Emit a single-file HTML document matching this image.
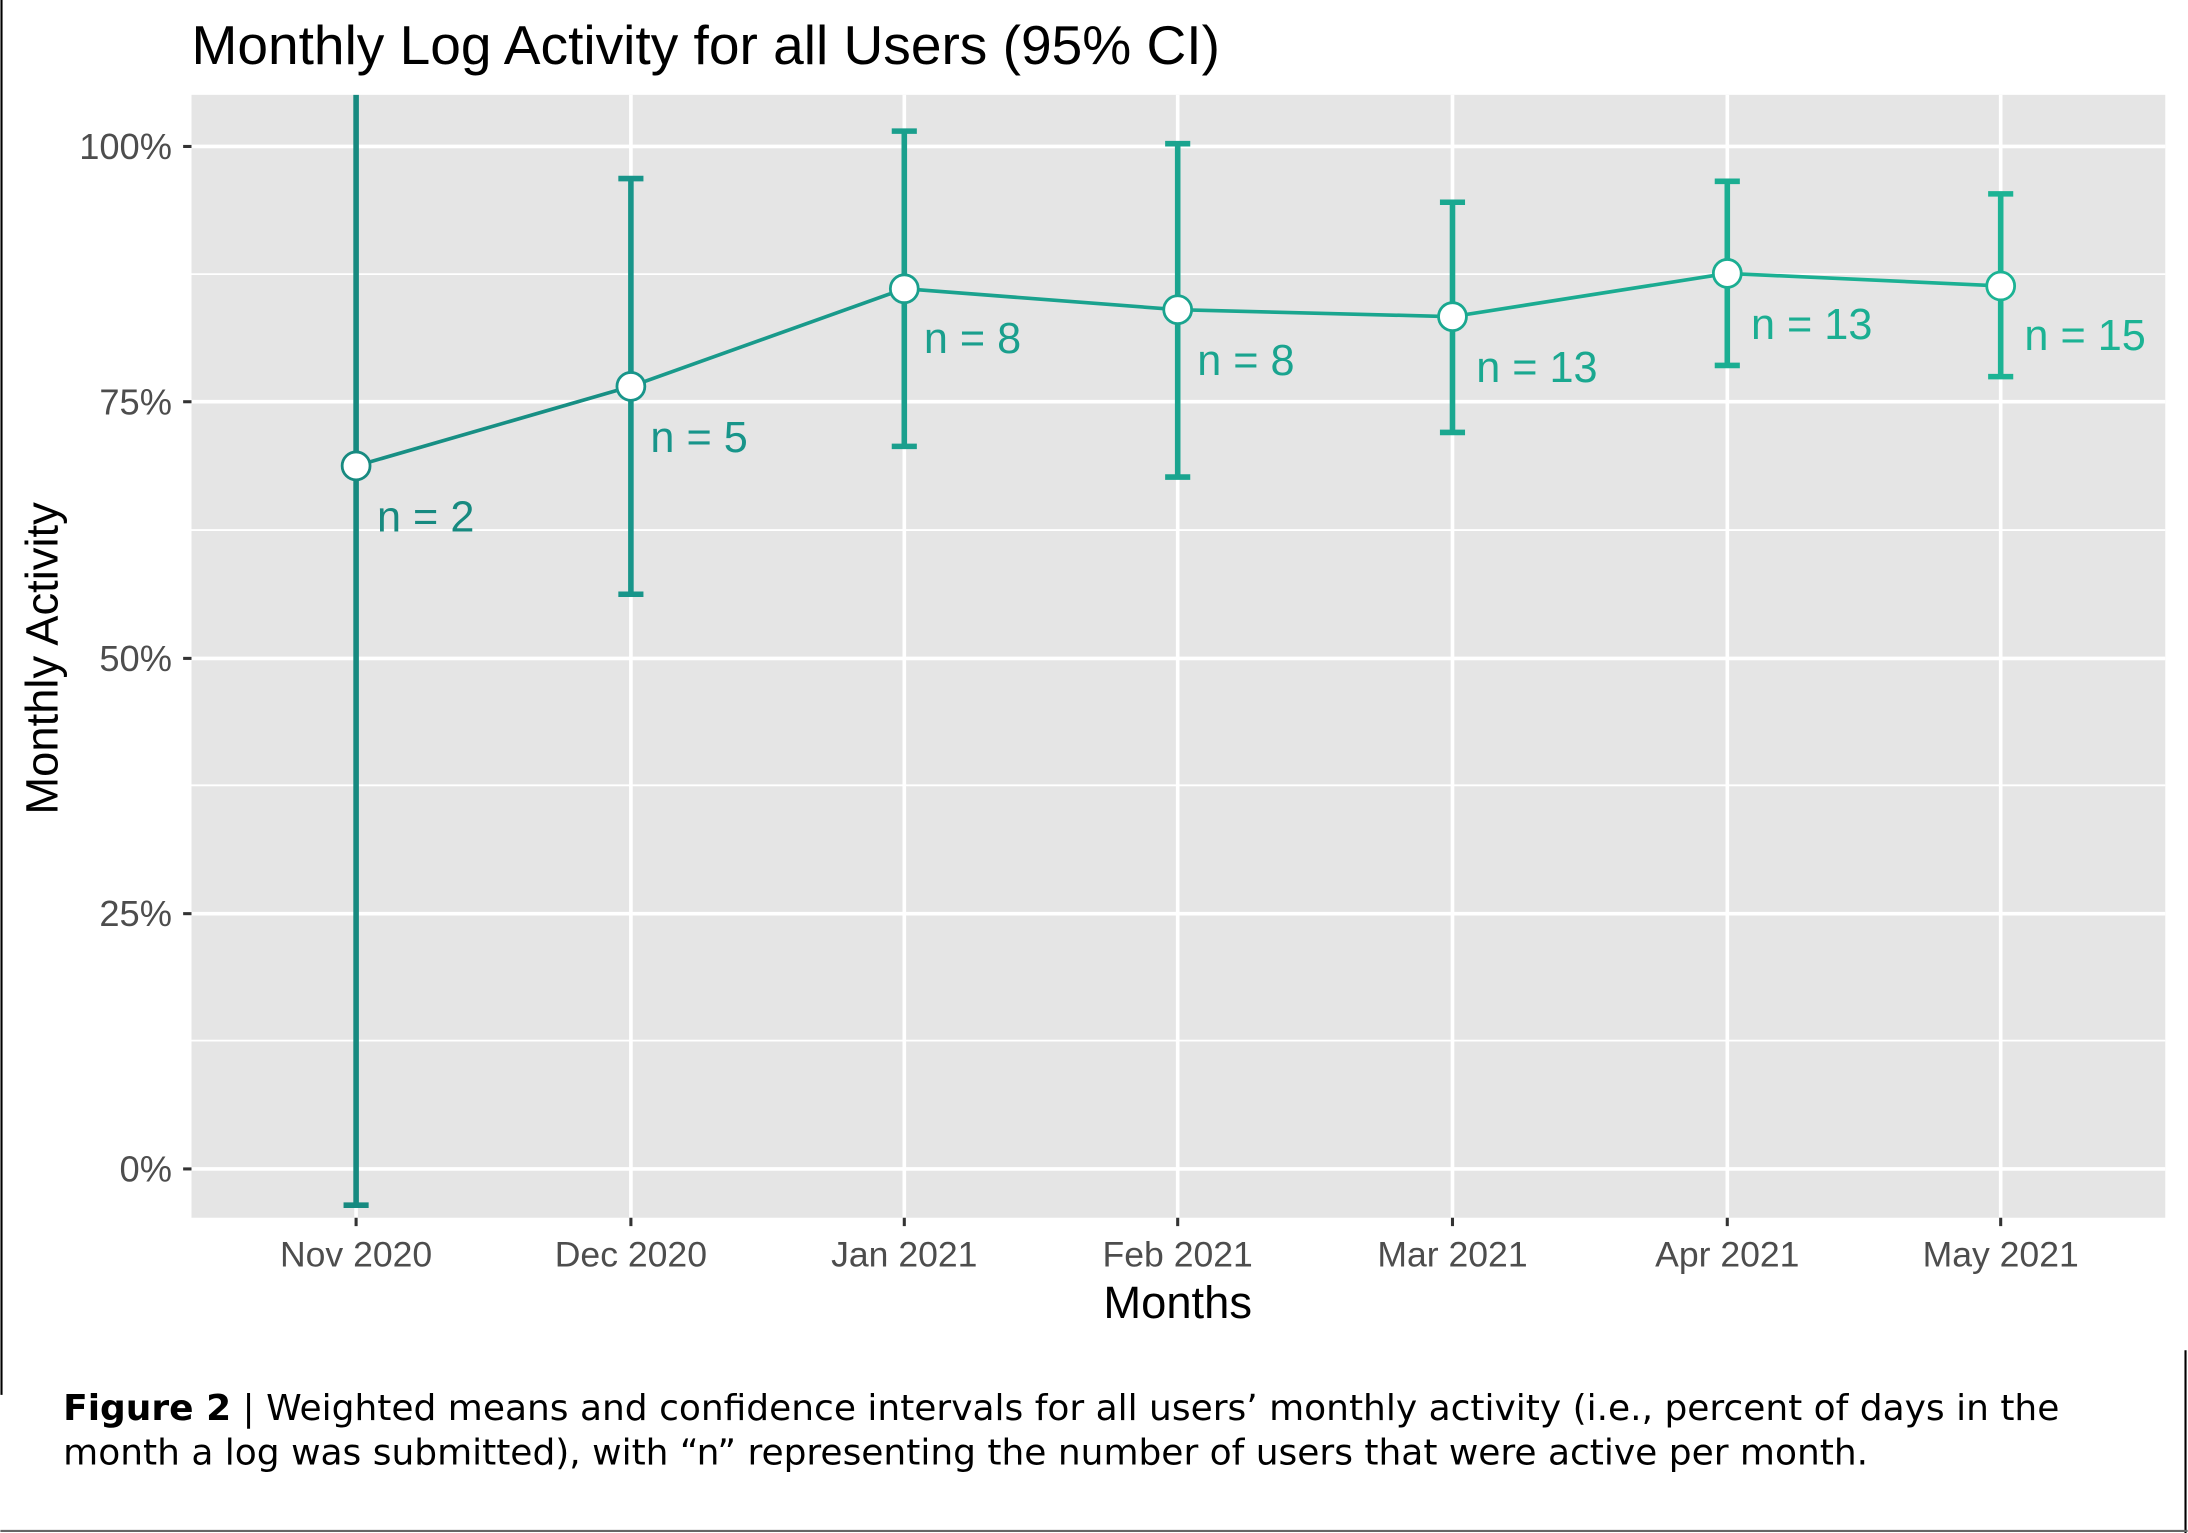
<!DOCTYPE html>
<html><head><meta charset="utf-8"><style>html,body{margin:0;padding:0;background:#fff}svg{display:block}</style></head>
<body>
<svg width="2188" height="1533" viewBox="0 0 1568 1099" xmlns="http://www.w3.org/2000/svg" font-family="Liberation Sans, Arial, sans-serif">
<rect width="1568" height="1099" fill="#fff"/>
<line x1="0.8" y1="0" x2="0.8" y2="1000" stroke="#000" stroke-width="1.5"/>
<line x1="1566.5" y1="968" x2="1566.5" y2="1099" stroke="#000" stroke-width="1.5"/>
<line x1="0" y1="1097.5" x2="1568" y2="1097.5" stroke="#666" stroke-width="1.5"/>
<text x="137" y="46" font-size="39.5" fill="#000">Monthly Log Activity for all Users (95% CI)</text>
<rect x="137" y="68" width="1415" height="805" fill="#e5e5e5"/>
<g stroke="#fff" stroke-width="1.3">
<line x1="137" x2="1552" y1="196.5" y2="196.5"/><line x1="137" x2="1552" y1="380" y2="380"/>
<line x1="137" x2="1552" y1="563" y2="563"/><line x1="137" x2="1552" y1="746" y2="746"/>
</g>
<g stroke="#fff" stroke-width="2.6">
<line x1="137" x2="1552" y1="105" y2="105"/><line x1="137" x2="1552" y1="288" y2="288"/>
<line x1="137" x2="1552" y1="472" y2="472"/><line x1="137" x2="1552" y1="655" y2="655"/>
<line x1="137" x2="1552" y1="838" y2="838"/>
<line x1="255" x2="255" y1="68" y2="873"/><line x1="452" x2="452" y1="68" y2="873"/>
<line x1="648" x2="648" y1="68" y2="873"/><line x1="844" x2="844" y1="68" y2="873"/>
<line x1="1041" x2="1041" y1="68" y2="873"/><line x1="1238" x2="1238" y1="68" y2="873"/>
<line x1="1434" x2="1434" y1="68" y2="873"/>
</g>
<g stroke="#333" stroke-width="2.2">
<line x1="131" x2="137" y1="105" y2="105"/><line x1="131" x2="137" y1="288" y2="288"/>
<line x1="131" x2="137" y1="472" y2="472"/><line x1="131" x2="137" y1="655" y2="655"/>
<line x1="131" x2="137" y1="838" y2="838"/>
<line x1="255" x2="255" y1="873" y2="879"/><line x1="452" x2="452" y1="873" y2="879"/>
<line x1="648" x2="648" y1="873" y2="879"/><line x1="844" x2="844" y1="873" y2="879"/>
<line x1="1041" x2="1041" y1="873" y2="879"/><line x1="1238" x2="1238" y1="873" y2="879"/>
<line x1="1434" x2="1434" y1="873" y2="879"/>
</g>
<g font-size="26" fill="#4d4d4d" text-anchor="end">
<text x="123" y="114">100%</text><text x="123" y="297">75%</text><text x="123" y="481">50%</text>
<text x="123" y="664">25%</text><text x="123" y="847">0%</text>
</g>
<g font-size="25.5" fill="#4d4d4d" text-anchor="middle">
<text x="255" y="908">Nov 2020</text><text x="452" y="908">Dec 2020</text><text x="648" y="908">Jan 2021</text>
<text x="844" y="908">Feb 2021</text><text x="1041" y="908">Mar 2021</text><text x="1238" y="908">Apr 2021</text>
<text x="1434" y="908">May 2021</text>
</g>
<text x="844" y="945" font-size="32.5" text-anchor="middle" fill="#000">Months</text>
<text transform="translate(41,472) rotate(-90)" font-size="32.5" text-anchor="middle" fill="#000">Monthly Activity</text>
<g stroke-width="4" fill="none">
<path d="M255 68V864M246 864H264" stroke="#178a80"/>
<path d="M452 128V426M443 128H461M443 426H461" stroke="#18958a"/>
<path d="M648 94V320M639 94H657M639 320H657" stroke="#1a9f8d"/>
<path d="M844 103V342M835 103H853M835 342H853" stroke="#1aa48f"/>
<path d="M1041 145V310M1032 145H1050M1032 310H1050" stroke="#1aa890"/>
<path d="M1238 130V262M1229 130H1247M1229 262H1247" stroke="#1bae92"/>
<path d="M1434 139V270M1425 139H1443M1425 270H1443" stroke="#1cb394"/>
</g>
<g stroke-width="2.6">
<line x1="255" y1="334" x2="452" y2="277" stroke="#178f84"/>
<line x1="452" y1="277" x2="648" y2="207" stroke="#199a8b"/>
<line x1="648" y1="207" x2="844" y2="222" stroke="#1aa28e"/>
<line x1="844" y1="222" x2="1041" y2="227" stroke="#1aa68f"/>
<line x1="1041" y1="227" x2="1238" y2="196" stroke="#1bab91"/>
<line x1="1238" y1="196" x2="1434" y2="205" stroke="#1bb093"/>
</g>
<g fill="#fff" stroke-width="2">
<circle cx="255" cy="334" r="10" stroke="#178a80"/><circle cx="452" cy="277" r="10" stroke="#18958a"/>
<circle cx="648" cy="207" r="10" stroke="#1a9f8d"/><circle cx="844" cy="222" r="10" stroke="#1aa48f"/>
<circle cx="1041" cy="227" r="10" stroke="#1aa890"/><circle cx="1238" cy="196" r="10" stroke="#1bae92"/>
<circle cx="1434" cy="205" r="10" stroke="#1cb394"/>
</g>
<g font-size="31">
<text x="270" y="381" fill="#178a80">n = 2</text><text x="466" y="324" fill="#18958a">n = 5</text>
<text x="662" y="253" fill="#1a9f8d">n = 8</text><text x="858" y="269" fill="#1aa48f">n = 8</text>
<text x="1058" y="274" fill="#1aa890">n = 13</text><text x="1255" y="243" fill="#1bae92">n = 13</text>
<text x="1451" y="251" fill="#1cb394">n = 15</text>
</g>
<g font-family="DejaVu Sans, sans-serif" font-size="25.8" fill="#000">
<text x="45" y="1018"><tspan font-weight="bold">Figure 2</tspan> | Weighted means and confidence intervals for all users’ monthly activity (i.e., percent of days in the</text>
<text x="45" y="1050">month a log was submitted), with “n” representing the number of users that were active per month.</text>
</g>
</svg>
</body></html>
